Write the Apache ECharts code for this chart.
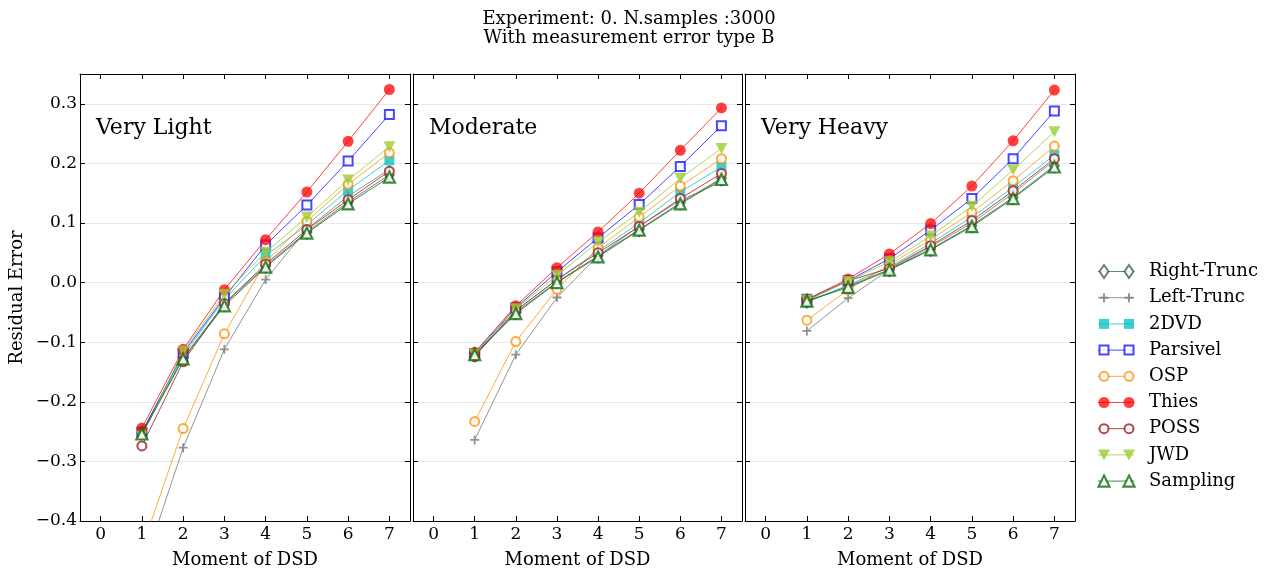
<!DOCTYPE html>
<html>
<head>
<meta charset="utf-8">
<script src="https://cdn.jsdelivr.net/npm/echarts@6/dist/echarts.min.js"></script>
<style>html,body{margin:0;padding:0;background:#fff}#c{width:1270px;height:571px}</style>
</head>
<body>
<div id="c"></div>
<script>
const categories = ['0','1','2','3','4','5','6','7'];
const panelTitles = ['Very Light','Moderate','Very Heavy'];
const seriesNames = ['Right-Trunc','Left-Trunc','2DVD','Parsivel','OSP','Thies','POSS','JWD','Sampling'];
const yTicks = [-0.4,-0.3,-0.2,-0.1,0.0,0.1,0.2,0.3];

// Panel 1: Very Light
const vlRightTrunc = [null,-0.252,-0.126,-0.036,0.028,0.085,0.135,0.181];
const vlLeftTrunc  = [null,-0.485,-0.277,-0.112,0.005,0.090,0.145,0.190];
const vl2DVD       = [null,-0.250,-0.122,-0.028,0.045,0.097,0.155,0.205];
const vlParsivel   = [null,-0.252,-0.118,-0.025,0.063,0.130,0.204,0.282];
const vlOSP        = [null,-0.446,-0.245,-0.086,0.035,0.103,0.165,0.218];
const vlThies      = [null,-0.244,-0.112,-0.012,0.072,0.152,0.237,0.324];
const vlPOSS       = [null,-0.274,-0.133,-0.035,0.031,0.089,0.139,0.187];
const vlJWD        = [null,-0.258,-0.115,-0.020,0.051,0.110,0.172,0.228];
const vlSampling   = [null,-0.254,-0.128,-0.039,0.026,0.083,0.132,0.177];

// Panel 2: Moderate
const moRightTrunc = [null,-0.121,-0.050,0.001,0.045,0.089,0.134,0.175];
const moLeftTrunc  = [null,-0.264,-0.121,-0.025,0.045,0.095,0.138,0.169];
const mo2DVD       = [null,-0.120,-0.047,0.005,0.053,0.100,0.152,0.194];
const moParsivel   = [null,-0.119,-0.042,0.018,0.075,0.131,0.195,0.263];
const moOSP        = [null,-0.233,-0.099,-0.011,0.058,0.110,0.162,0.208];
const moThies      = [null,-0.117,-0.039,0.025,0.085,0.150,0.222,0.293];
const moPOSS       = [null,-0.124,-0.047,0.005,0.050,0.094,0.141,0.183];
const moJWD        = [null,-0.120,-0.044,0.012,0.068,0.118,0.175,0.225];
const moSampling   = [null,-0.121,-0.052,0.000,0.043,0.088,0.132,0.173];

// Panel 3: Very Heavy
const vhRightTrunc = [null,-0.031,-0.006,0.022,0.056,0.096,0.143,0.196];
const vhLeftTrunc  = [null,-0.081,-0.026,0.022,0.060,0.100,0.150,0.205];
const vh2DVD       = [null,-0.033,-0.004,0.026,0.066,0.110,0.160,0.214];
const vhParsivel   = [null,-0.028,0.003,0.040,0.088,0.141,0.208,0.288];
const vhOSP        = [null,-0.063,-0.012,0.030,0.072,0.118,0.171,0.229];
const vhThies      = [null,-0.028,0.006,0.048,0.099,0.162,0.238,0.323];
const vhPOSS       = [null,-0.030,0.003,0.024,0.062,0.104,0.154,0.208];
const vhJWD        = [null,-0.029,0.002,0.035,0.078,0.128,0.189,0.253];
const vhSampling   = [null,-0.031,-0.008,0.021,0.055,0.094,0.141,0.194];

const panelData = [
  [vlRightTrunc,vlLeftTrunc,vl2DVD,vlParsivel,vlOSP,vlThies,vlPOSS,vlJWD,vlSampling],
  [moRightTrunc,moLeftTrunc,mo2DVD,moParsivel,moOSP,moThies,moPOSS,moJWD,moSampling],
  [vhRightTrunc,vhLeftTrunc,vh2DVD,vhParsivel,vhOSP,vhThies,vhPOSS,vhJWD,vhSampling]
];

const FONT = '"DejaVu Serif", serif';
const FS = 18;
const HOLLOW_FILL = 'rgba(255,255,255,0.85)';
const styles = {
  'Right-Trunc': {c:'rgba(47,79,79,0.72)', symbol:'diamond', size:[9,13], hollow:true, bw:2},
  'Left-Trunc':  {c:'rgba(128,128,128,0.85)', symbol:'path://M4,0H6V4H10V6H6V10H4V6H0V4H4Z', size:9, hollow:false},
  '2DVD':        {c:'rgba(0,191,191,0.75)', symbol:'rect', size:10, hollow:false},
  'Parsivel':    {c:'rgba(0,0,255,0.72)', symbol:'rect', size:9, hollow:true, bw:2},
  'OSP':         {c:'rgba(255,140,0,0.75)', symbol:'circle', size:9, hollow:true, bw:2},
  'Thies':       {c:'rgba(255,0,0,0.75)', symbol:'circle', size:11, hollow:false},
  'POSS':        {c:'rgba(165,42,42,0.85)', symbol:'circle', size:9, hollow:true, bw:2},
  'JWD':         {c:'rgba(154,205,50,0.8)', symbol:'path://M0,0H10L5,9Z', size:[12,11], hollow:false},
  'Sampling':    {c:'rgba(0,100,0,0.75)', symbol:'triangle', size:11, hollow:true, bw:2.2}
};

const grids = [
  {left:80, top:74, width:330, height:447, containLabel:false, outerBoundsMode:'none'},
  {left:413, top:74, width:329, height:447, containLabel:false, outerBoundsMode:'none'},
  {left:745, top:74, width:330, height:447, containLabel:false, outerBoundsMode:'none'}
];

const fmt = v => { const s = (Math.round(v*10)/10).toFixed(1); return s.replace('-', '\u2212'); };

const xAxes = [], yAxes = [];
for (let i = 0; i < 3; i++) {
  xAxes.push({
    type:'category', gridIndex:i, data:categories, boundaryGap:true, position:'bottom',
    axisLine:{show:true, onZero:false, lineStyle:{color:'#000', width:1}},
    axisTick:{show:true, inside:true, alignWithLabel:true, length:5, lineStyle:{color:'#000'}},
    axisLabel:{show:true, color:'#000', fontFamily:FONT, fontSize:17, margin:5},
    splitLine:{show:false},
    name:'Moment of DSD', nameLocation:'middle', nameGap:30,
    nameTextStyle:{color:'#000', fontFamily:FONT, fontSize:FS}
  });
}
for (let i = 0; i < 3; i++) {
  xAxes.push({
    type:'category', gridIndex:i, data:categories, boundaryGap:true, position:'top',
    axisLine:{show:true, onZero:false, lineStyle:{color:'#000', width:1}},
    axisTick:{show:true, inside:true, alignWithLabel:true, length:5, lineStyle:{color:'#000'}},
    axisLabel:{show:false}, splitLine:{show:false}
  });
}
for (let i = 0; i < 3; i++) {
  yAxes.push({
    type:'value', gridIndex:i, min:-0.4, max:0.35, interval:0.1, position:'left',
    axisLine:{show:true, onZero:false, lineStyle:{color:'#000', width:1}},
    axisTick:{show:true, inside:true, length:5, lineStyle:{color:'#000'}},
    axisLabel:{show:i===0, color:'#000', fontFamily:FONT, fontSize:17, margin:3, showMaxLabel:false,
      formatter: v => (v > 0.32 ? '' : fmt(v))},
    splitLine:{show:true, lineStyle:{color:'#e8e8e8', width:1}},
    name: i===0 ? 'Residual Error' : '', nameLocation:'middle', nameGap:54, nameRotate:90,
    nameTextStyle:{color:'#000', fontFamily:FONT, fontSize:FS}
  });
}
for (let i = 0; i < 3; i++) {
  yAxes.push({
    type:'value', gridIndex:i, min:-0.4, max:0.35, interval:0.1, position:'right',
    axisLine:{show:true, onZero:false, lineStyle:{color:'#000', width:1}},
    axisTick:{show:true, inside:true, length:5, lineStyle:{color:'#000'}},
    axisLabel:{show:false}, splitLine:{show:false}
  });
}

const series = [];
for (let p = 0; p < 3; p++) {
  seriesNames.forEach((name, k) => {
    const st = styles[name];
    series.push({
      name, type:'line', xAxisIndex:p, yAxisIndex:p,
      data: panelData[p][k], connectNulls:false, clip:true,
      symbol: st.symbol, symbolSize: st.size, showSymbol:true,
      lineStyle:{color:st.c, width:1},
      itemStyle: st.hollow ? {color:HOLLOW_FILL, borderColor:st.c, borderWidth:st.bw}
                           : {color:st.c, borderWidth:0},
      emphasis:{disabled:true}, silent:true, z:2+k
    });
  });
}

// Legend drawn as graphic: line with a marker at each end, matching the reference style
function legendMarker(name, cx, cy) {
  const st = styles[name];
  const fillStyle = st.hollow ? {fill:HOLLOW_FILL, stroke:st.c, lineWidth:st.bw} : {fill:st.c};
  switch (name) {
    case 'Right-Trunc':
      return {type:'polygon', shape:{points:[[cx,cy-6.5],[cx+4.5,cy],[cx,cy+6.5],[cx-4.5,cy]]}, style:fillStyle};
    case 'Left-Trunc':
      return {type:'polygon', shape:{points:[[cx-1,cy-4.5],[cx+1,cy-4.5],[cx+1,cy-1],[cx+4.5,cy-1],[cx+4.5,cy+1],[cx+1,cy+1],[cx+1,cy+4.5],[cx-1,cy+4.5],[cx-1,cy+1],[cx-4.5,cy+1],[cx-4.5,cy-1],[cx-1,cy-1]]}, style:fillStyle};
    case '2DVD':
      return {type:'rect', shape:{x:cx-5, y:cy-5, width:10, height:10}, style:fillStyle};
    case 'Parsivel':
      return {type:'rect', shape:{x:cx-4.5, y:cy-4.5, width:9, height:9}, style:fillStyle};
    case 'Thies':
      return {type:'circle', shape:{cx, cy, r:5.5}, style:fillStyle};
    case 'OSP': case 'POSS':
      return {type:'circle', shape:{cx, cy, r:4.5}, style:fillStyle};
    case 'JWD':
      return {type:'polygon', shape:{points:[[cx-6,cy-5.5],[cx+6,cy-5.5],[cx,cy+5.5]]}, style:fillStyle};
    case 'Sampling':
      return {type:'polygon', shape:{points:[[cx,cy-5.5],[cx+5.5,cy+5.5],[cx-5.5,cy+5.5]]}, style:fillStyle};
  }
}
const legendGraphics = [];
seriesNames.forEach((name, i) => {
  const y = 271.5 + 26.2 * i;
  const st = styles[name];
  legendGraphics.push({type:'line', shape:{x1:1098, y1:y, x2:1134, y2:y}, style:{stroke:st.c, lineWidth:1}, z:10});
  const m1 = legendMarker(name, 1104, y); m1.z = 11; legendGraphics.push(m1);
  const m2 = legendMarker(name, 1129, y); m2.z = 11; legendGraphics.push(m2);
  legendGraphics.push({type:'text', x:1149, y:y, style:{text:name, font:FS + 'px ' + FONT, fill:'#000', verticalAlign:'middle', align:'left'}, z:11});
});

const graphics = panelTitles.map((t, i) => ({
  type:'text', left: grids[i].left + 16, top: 117,
  style:{text:t, font:'22px ' + FONT, fill:'#000'}
})).concat(legendGraphics);

const chart = echarts.init(document.getElementById('c'), null, {renderer:'canvas'});
chart.setOption({
  animation:false,
  backgroundColor:'#fff',
  title:{
    text:'Experiment: 0. N.samples :3000\nWith measurement error type B',
    left:624, top:5, textAlign:'center',
    textStyle:{color:'#000', fontFamily:FONT, fontSize:FS, fontWeight:'normal', lineHeight:19}
  },
  grid: grids,
  xAxis: xAxes,
  yAxis: yAxes,
  series,
  graphic: graphics
});
</script>
</body>
</html>
